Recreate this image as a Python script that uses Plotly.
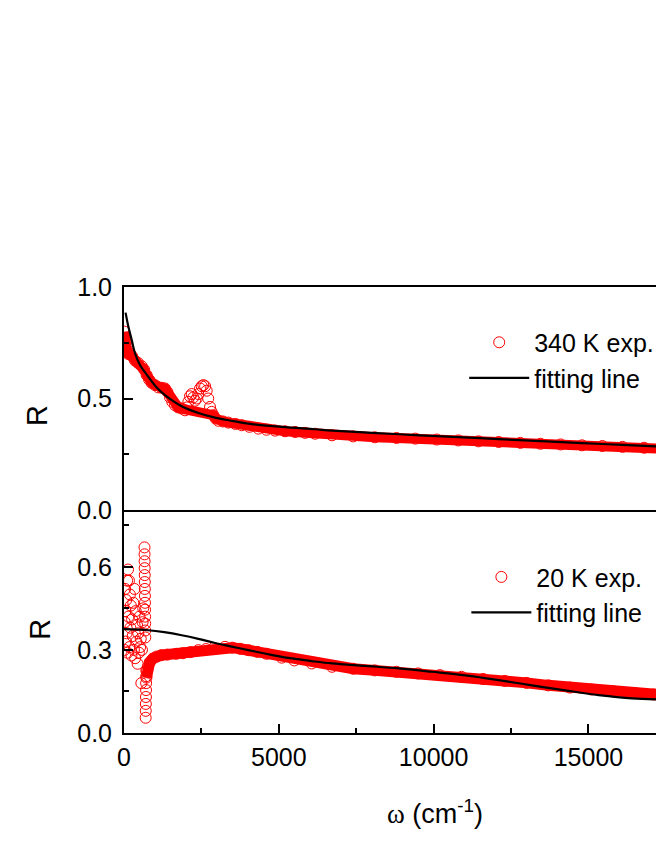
import numpy as np
import plotly.graph_objects as go
from plotly.subplots import make_subplots

# ---- 340 K reflectivity (top panel) ----
t_x = [10, 20, 30, 45, 60, 90, 130, 194, 260, 355, 450, 570, 650, 732, 810, 893,
       1000, 1109, 1220, 1324, 1400, 1485, 1560, 1647, 1750, 1863, 1970, 2030,
       2078, 2130, 2186, 2240, 2294, 2350, 2400, 2455, 2510, 2563, 2620, 2670,
       2720, 2778, 2830, 2886, 2960, 3048, 3200, 3371, 3600, 3802, 4050, 4340,
       4600, 4878, 5200, 5524, 5850, 6170, 6718, 7400, 8100, 8800, 9410, 10100,
       10800, 11450, 12100, 12800, 13450, 14100, 14790, 15450, 16100, 16800,
       17440, 17600]
t_R = [0.80, 0.77, 0.74, 0.72, 0.75, 0.72, 0.70, 0.70, 0.69, 0.67, 0.66, 0.645,
       0.63, 0.605, 0.585, 0.57, 0.56, 0.55, 0.548, 0.545, 0.53, 0.505, 0.485,
       0.47, 0.46, 0.455, 0.447, 0.46, 0.485, 0.51, 0.52, 0.505, 0.49, 0.50,
       0.52, 0.545, 0.555, 0.56, 0.555, 0.535, 0.50, 0.462, 0.44, 0.425, 0.41,
       0.40, 0.397, 0.392, 0.386, 0.38, 0.373, 0.365, 0.36, 0.356, 0.353, 0.350,
       0.346, 0.342, 0.335, 0.33, 0.326, 0.323, 0.320, 0.316, 0.312, 0.308,
       0.305, 0.301, 0.297, 0.294, 0.290, 0.287, 0.283, 0.279, 0.275, 0.274]

tf_x = [50, 140, 248, 355, 517, 786, 1055, 1324, 1863, 2401, 2940, 3478, 4016,
        5093, 6170, 6718, 8000, 9410, 10800, 12100, 13450, 14790, 16100, 17440]
tf_R = [0.885, 0.823, 0.763, 0.703, 0.650, 0.597, 0.549, 0.515, 0.465, 0.435,
        0.414, 0.400, 0.387, 0.373, 0.362, 0.356, 0.346, 0.336, 0.327, 0.318,
        0.309, 0.300, 0.292, 0.284]

# ---- 20 K reflectivity (bottom panel) ----
# noisy far-IR part
b_lf_x = [15, 25, 35, 45, 55, 70, 85, 100, 115, 130, 145, 160, 175, 190, 205,
          220, 240, 260, 280, 300, 320, 340, 360, 380, 400, 420, 440, 460, 480,
          500, 520, 540, 560, 580, 600, 620]
b_lf_R = [0.30, 0.40, 0.52, 0.44, 0.33, 0.48, 0.36, 0.55, 0.29, 0.59, 0.42,
          0.55, 0.31, 0.50, 0.38, 0.46, 0.28, 0.41, 0.35, 0.47, 0.30, 0.52,
          0.27, 0.44, 0.33, 0.39, 0.25, 0.36, 0.29, 0.42, 0.31, 0.34, 0.18,
          0.30, 0.40, 0.45]
# phonon region
b_ph_x = [662, 664, 666, 668, 670, 672, 674, 676, 678, 680, 682, 684, 686, 688,
          700, 703, 706, 709, 712, 715, 718, 721]
b_ph_R = [0.67, 0.645, 0.62, 0.595, 0.57, 0.545, 0.52, 0.495, 0.47, 0.445, 0.42,
          0.395, 0.37, 0.345, 0.055, 0.08, 0.105, 0.13, 0.155, 0.18, 0.205, 0.225]
# smooth part
b_x = [725, 745, 775, 830, 937, 1050, 1206, 1400, 1690, 1900, 2150, 2401, 2650,
       2900, 3262, 3500, 3750, 4016, 4300, 4600, 5093, 5500, 6062, 6718, 7400,
       8100, 8800, 9500, 10200, 10900, 11600, 12300, 13000, 13700, 14400, 15100,
       15800, 16500, 17100, 17600]
b_R = [0.20, 0.225, 0.239, 0.255, 0.269, 0.276, 0.281, 0.283, 0.286, 0.288,
       0.292, 0.299, 0.303, 0.307, 0.311, 0.308, 0.304, 0.299, 0.293, 0.286,
       0.272, 0.262, 0.251, 0.239, 0.232, 0.226, 0.221, 0.215, 0.209, 0.203,
       0.195, 0.188, 0.181, 0.172, 0.164, 0.157, 0.150, 0.144, 0.139, 0.136]

bf_x = [0, 786, 1300, 1863, 2400, 2940, 3478, 4016, 4550, 5093, 5600, 6170, 6718,
        7795, 8871, 9948, 11024, 12101, 13178, 14254, 15330, 16407, 17440]
bf_R = [0.375, 0.371, 0.364, 0.353, 0.340, 0.325, 0.312, 0.299, 0.287, 0.275,
        0.267, 0.258, 0.251, 0.242, 0.233, 0.221, 0.208, 0.191, 0.172, 0.154,
        0.137, 0.125, 0.121]

RED = "#ff0000"
FONT = "Liberation Sans, Arial, sans-serif"
circ = dict(symbol="circle-open", size=11, color=RED, line=dict(width=1, color=RED))

fig = make_subplots(rows=2, cols=1, shared_xaxes=True, vertical_spacing=0)

# thick band where the open circles overlap into a solid stripe
tx = np.array(t_x)
tR = np.array(t_R)
band = (tx < 1950) | (tx > 2850)
fig.add_trace(go.Scatter(x=tx[band], y=tR[band], mode="lines",
                         line=dict(color=RED, width=10), showlegend=False,
                         hoverinfo="skip"), row=1, col=1)
fig.add_trace(go.Scatter(x=t_x, y=t_R, mode="markers", marker=circ,
                         name="340 K exp.", legend="legend"), row=1, col=1)
fig.add_trace(go.Scatter(x=tf_x, y=tf_R, mode="lines", line_shape="spline",
                         line=dict(color="black", width=2.2),
                         name="fitting line", legend="legend"), row=1, col=1)

fig.add_trace(go.Scatter(x=b_x, y=b_R, mode="lines",
                         line=dict(color=RED, width=11), showlegend=False,
                         hoverinfo="skip"), row=2, col=1)
fig.add_trace(go.Scatter(x=b_lf_x + b_ph_x, y=b_lf_R + b_ph_R, mode="markers",
                         marker=circ, showlegend=False), row=2, col=1)
fig.add_trace(go.Scatter(x=b_x, y=b_R, mode="markers", marker=circ,
                         name="20 K exp.", legend="legend2"), row=2, col=1)
fig.add_trace(go.Scatter(x=bf_x, y=bf_R, mode="lines", line_shape="spline",
                         line=dict(color="black", width=2.2),
                         name="fitting line", legend="legend2"), row=2, col=1)

ax_common = dict(showline=True, linecolor="black", linewidth=2, showgrid=False,
                 zeroline=False, tickfont=dict(family=FONT, size=25, color="black"),
                 tickcolor="black", tickwidth=2, automargin=False)

fig.update_xaxes(range=[0, 17440], **ax_common)
fig.update_xaxes(showticklabels=False, ticks="", mirror=True, row=1, col=1)
fig.update_xaxes(ticks="inside", ticklen=9, dtick=5000, tick0=0,
                 tickformat="d", ticklabelstandoff=1, mirror=False,
                 minor=dict(ticks="inside", ticklen=5, dtick=2500, tick0=0,
                            tickwidth=2, tickcolor="black", showgrid=False),
                 row=2, col=1)
fig.update_yaxes(ticks="inside", ticklen=9, tickformat=".1f",
                 ticklabelstandoff=5, **ax_common)
fig.update_yaxes(range=[0, 1], dtick=0.5, tick0=0,
                 minor=dict(ticks="inside", ticklen=5, dtick=0.25, tick0=0,
                            tickwidth=2, tickcolor="black", showgrid=False),
                 row=1, col=1)
fig.update_yaxes(range=[0, 0.805], dtick=0.3, tick0=0,
                 minor=dict(ticks="inside", ticklen=5, dtick=0.15, tick0=0,
                            tickwidth=2, tickcolor="black", showgrid=False),
                 row=2, col=1)

legend_style = dict(font=dict(family=FONT, size=25, color="black"),
                    bgcolor="rgba(0,0,0,0)", xanchor="left", yanchor="top",
                    itemwidth=60)
# page body adds 8px margin, so the figure is 8px smaller than the window
fig.update_layout(
    width=656, height=852,
    margin=dict(l=116, r=0, t=279, b=127),
    plot_bgcolor="white", paper_bgcolor="white",
    legend=dict(x=0.630, y=0.927, **legend_style),
    legend2=dict(x=0.634, y=0.401, **legend_style),
    annotations=[
        dict(text="R", xref="paper", yref="paper", x=-0.161, y=0.711,
             xanchor="center", yanchor="middle",
             showarrow=False, textangle=-90,
             font=dict(family=FONT, size=29, color="black")),
        dict(text="R", xref="paper", yref="paper", x=-0.156, y=0.233,
             xanchor="center", yanchor="middle",
             showarrow=False, textangle=-90,
             font=dict(family=FONT, size=29, color="black")),
        dict(text="<span style='font-family:Liberation Serif'>ω</span> (cm<sup>-1</sup>)",
             xref="paper", yref="paper", x=0.576, y=-0.177, showarrow=False,
             xanchor="center", yanchor="middle",
             font=dict(family=FONT, size=27, color="black")),
    ],
)

fig.write_html("out.html")
